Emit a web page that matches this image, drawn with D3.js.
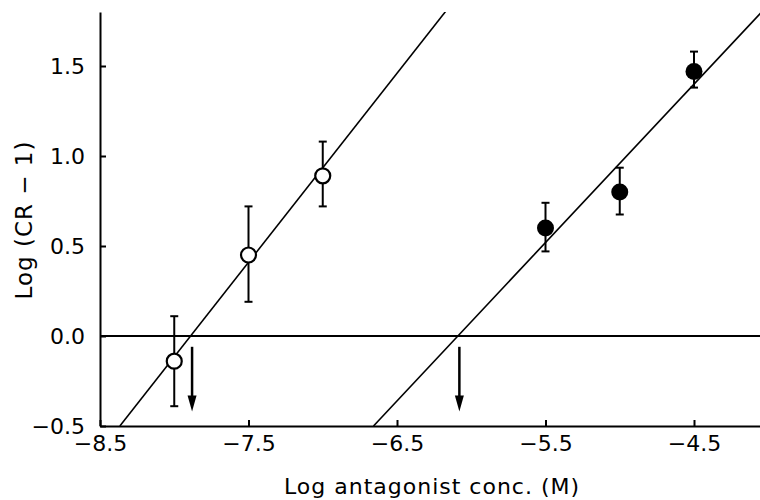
<!DOCTYPE html>
<html lang="en">
<head>
<meta charset="UTF-8">
<title>Schild plot</title>
<script src="https://d3js.org/d3.v7.min.js"></script>
<style>
  body { margin: 0; background: #fff; }
  text { font-family: "DejaVu Sans", sans-serif; fill: #000; }
</style>
</head>
<body>
<script>
// open circles (first antagonist)
var openConc = [-8.0, -7.5, -7.0];
var openResp = [-0.14, 0.45, 0.89];
var openLow  = [-0.39, 0.19, 0.72];
var openHigh = [0.11, 0.72, 1.08];

// filled circles (second antagonist)
var fillConc = [-5.5, -5.0, -4.5];
var fillResp = [0.60, 0.80, 1.47];
var fillLow  = [0.47, 0.675, 1.38];
var fillHigh = [0.74, 0.935, 1.58];

// regression lines: x-intercept and slope
var lineX0 = [-7.89, -6.09];
var lineSlope = [1.05, 0.88];

var xTicks = [-8.5, -7.5, -6.5, -5.5, -4.5];
var yTicks = [-0.5, 0.0, 0.5, 1.0, 1.5];

var width = 760, height = 500;
var pLeft = 100, pRight = 760, pTop = 12, pBottom = 426;

var svg = d3.select("body").append("svg")
    .attr("width", width)
    .attr("height", height);

var x = d3.scaleLinear().domain([-8.5, -8.5 + 660 / 148.5]).range([pLeft, pRight]);
var y = d3.scaleLinear().domain([-0.5, 1.8]).range([pBottom, pTop]);

svg.append("clipPath").attr("id", "plot")
    .append("rect")
    .attr("x", pLeft).attr("y", pTop)
    .attr("width", pRight - pLeft).attr("height", pBottom - pTop);

// axes
var xAxis = d3.axisBottom(x).tickValues(xTicks).tickFormat(d3.format(".1f"))
    .tickSizeInner(-6).tickSizeOuter(0).tickPadding(9);
var yAxis = d3.axisLeft(y).tickValues(yTicks).tickFormat(d3.format(".1f"))
    .tickSizeInner(-6).tickSizeOuter(0).tickPadding(15);

var gx = svg.append("g")
    .attr("transform", "translate(0," + pBottom + ")")
    .call(xAxis);
var gy = svg.append("g")
    .attr("transform", "translate(" + pLeft + ",0)")
    .call(yAxis);

[gx, gy].forEach(function(g) {
    g.selectAll("path, line").attr("stroke", "#000").attr("stroke-width", 2);
    g.selectAll("text").style("font-size", "22px").style("font-family", "DejaVu Sans");
});

// zero line
svg.append("line")
    .attr("x1", pLeft).attr("x2", pRight)
    .attr("y1", y(0)).attr("y2", y(0))
    .attr("stroke", "#000").attr("stroke-width", 2);

// regression lines
var plot = svg.append("g").attr("clip-path", "url(#plot)");
lineX0.forEach(function(x0, i) {
    var s = lineSlope[i];
    var xa = x0 + (-0.5) / s, xb = x0 + 1.9 / s;
    plot.append("line")
        .attr("x1", x(xa)).attr("y1", y(-0.5))
        .attr("x2", x(xb)).attr("y2", y(1.9))
        .attr("stroke", "#000").attr("stroke-width", 1.6);
});

// arrows marking the x-intercepts
lineX0.forEach(function(x0) {
    var ax = x(x0 + 0.01);
    var y1 = y(-0.06), y2 = y(-0.42);
    svg.append("line")
        .attr("x1", ax).attr("x2", ax)
        .attr("y1", y1).attr("y2", y2 - 12)
        .attr("stroke", "#000").attr("stroke-width", 2.5);
    svg.append("path")
        .attr("d", "M" + (ax - 4.5) + "," + (y2 - 16) + "L" + (ax + 4.5) + "," + (y2 - 16) + "L" + ax + "," + y2 + "Z")
        .attr("fill", "#000");
});

// error bars + markers
function drawSeries(conc, resp, lo, hi, filled) {
    var g = svg.append("g");
    conc.forEach(function(c, i) {
        var cx = x(c);
        g.append("line")
            .attr("x1", cx).attr("x2", cx)
            .attr("y1", y(lo[i])).attr("y2", y(hi[i]))
            .attr("stroke", "#000").attr("stroke-width", 2);
        [lo[i], hi[i]].forEach(function(v) {
            g.append("line")
                .attr("x1", cx - 4).attr("x2", cx + 4)
                .attr("y1", y(v)).attr("y2", y(v))
                .attr("stroke", "#000").attr("stroke-width", 2);
        });
    });
    g.selectAll("circle")
        .data(conc)
        .enter().append("circle")
        .attr("cx", function(d) { return x(d); })
        .attr("cy", function(d, i) { return y(resp[i]); })
        .attr("r", filled ? 8.5 : 7.5)
        .attr("fill", filled ? "#000" : "#fff")
        .attr("stroke", "#000")
        .attr("stroke-width", filled ? 0 : 2.2);
}
drawSeries(openConc, openResp, openLow, openHigh, false);
drawSeries(fillConc, fillResp, fillLow, fillHigh, true);

// axis titles
svg.append("text")
    .attr("x", 432).attr("y", 494)
    .attr("text-anchor", "middle")
    .style("font-size", "22px")
    .style("letter-spacing", "1px")
    .text("Log antagonist conc. (M)");

svg.append("text")
    .attr("transform", "translate(32,220) rotate(-90)")
    .attr("text-anchor", "middle")
    .style("font-size", "23px")
    .style("letter-spacing", "1px")
    .text("Log (CR \u2212 1)");
</script>
</body>
</html>
